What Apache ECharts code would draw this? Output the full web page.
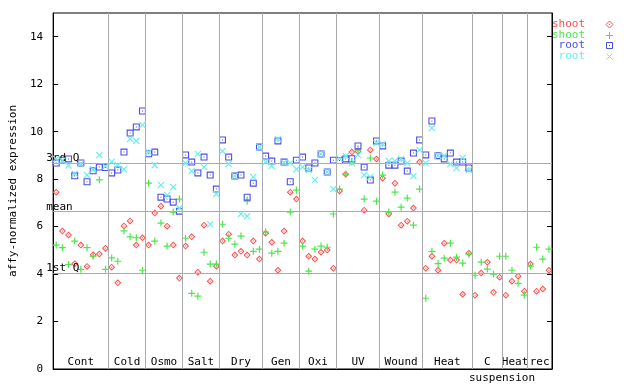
<!DOCTYPE html>
<html><head><meta charset="utf-8">
<script src="https://cdn.jsdelivr.net/npm/echarts@6/dist/echarts.min.js"></script>
<style>html,body{margin:0;padding:0;background:#fff}#c{width:640px;height:384px}</style>
</head><body><div id="c"></div>
<script>
// ---- data ----
const groupLabels = ['Cont','Cold','Osmo','Salt','Dry','Gen','Oxi','UV','Wound','Heat','C','Heat','rec'];
const groupSizes  = [9,6,6,6,7,6,6,7,7,8,5,4,4];
const subLabel = 'suspension';
const yTicks = [0,2,4,6,8,10,12,14];
const statNames = ['3rd Q','mean','1st Q'];
const statValues = [8.68, 6.63, 4.05];
const seriesNames = ['shoot','shoot','root','root'];

const shootRed = [
 7.45,5.81,5.65,4.43,5.22,4.32,4.81,4.85,5.09,
 4.29,3.63,6.03,6.24,5.22,5.53,
 5.22,6.57,6.86,6.02,5.22,3.83,
 5.18,5.57,4.08,6.06,3.70,4.33,
 5.39,5.68,4.80,4.96,4.80,5.39,4.63,
 5.72,5.34,4.16,5.81,7.45,7.16,
 5.39,4.75,4.63,4.92,5.01,4.25,
 7.50,8.21,9.14,9.18,6.69,9.23,8.85,
 8.04,6.53,7.83,6.06,6.23,6.78,8.72,
 4.25,4.75,4.16,5.30,4.59,4.59,3.15,4.88,
 3.11,4.04,4.50,3.23,3.87,
 3.11,3.70,3.91,3.28,
 4.42,3.28,3.37,4.16];
const shootGreen = [
 5.22,5.11,4.40,5.39,4.20,5.11,4.75,7.97,4.20,
 4.68,4.54,5.82,5.57,5.53,4.16,
 7.83,5.39,6.15,5.18,6.61,7.16,
 5.51,3.19,3.07,4.92,4.42,4.42,
 6.10,5.51,5.26,5.60,7.07,4.96,5.05,
 5.77,4.88,4.96,5.30,6.61,7.54,
 5.18,4.12,5.05,5.18,5.13,6.53,
 7.58,8.21,8.72,9.23,7.16,8.89,7.07,
 8.17,6.61,7.45,6.82,7.20,6.06,7.58,
 2.98,4.96,4.44,4.67,5.30,4.71,4.46,4.84,
 3.95,4.50,4.21,4.00,4.75,
 4.75,4.16,3.61,3.11,
 4.33,5.13,4.63,5.05];
const rootBlue = [
 8.68,8.80,8.85,8.14,8.68,7.89,8.35,8.51,8.49,
 8.26,8.38,9.14,9.94,10.20,10.87,
 9.07,9.14,7.24,7.16,7.03,6.65,
 9.02,8.72,8.26,8.93,8.17,7.58,
 9.65,8.93,8.13,8.17,7.24,7.83,9.35,
 8.97,8.76,9.61,8.72,7.89,8.80,
 8.93,8.47,8.68,9.06,8.30,8.80,
 8.78,8.85,8.86,9.40,8.51,7.96,9.61,
 9.40,8.59,8.59,8.76,8.34,9.10,9.65,
 9.02,10.45,8.99,8.85,9.10,8.72,8.72,8.47];
const rootCyan = [
 8.85,8.78,8.57,8.23,8.65,8.17,8.41,9.02,8.54,
 8.73,8.59,8.42,9.69,9.61,10.28,
 9.14,8.59,7.75,7.33,7.67,6.78,
 8.68,8.34,9.06,8.51,6.10,7.37,
 9.18,8.64,8.13,6.53,6.44,8.09,9.35,
 8.73,8.55,9.69,8.69,8.68,8.42,
 8.51,8.38,7.96,9.06,8.30,7.58,
 8.87,8.97,8.68,9.02,8.17,8.09,9.52,
 9.48,8.76,8.76,8.85,8.68,8.13,9.23,
 8.68,10.15,8.99,8.99,8.64,8.47,8.89,8.38];

// ---- styling ----
const FONT = 'DejaVu Sans Mono';
const colors = ['#ff4d4d','#4de64d','#4d4de6','#66eeee'];
const shapes = [
 'M3.5,0L7,3.5L3.5,7L0,3.5Z M3.5,1.4L1.4,3.5L3.5,5.6L5.6,3.5Z M3,3H4V4H3Z',
 'M2.9,0H4.1V2.9H7V4.1H4.1V7H2.9V4.1H0V2.9H2.9Z',
 'M0,0H7V7H0Z M1.1,1.1V5.9H5.9V1.1Z M3,3H4V4H3Z',
 'M0,0.8L0.8,0L3.5,2.7L6.2,0L7,0.8L4.3,3.5L7,6.2L6.2,7L3.5,4.3L0.8,7L0,6.2L2.7,3.5Z'
];
const total = groupSizes.reduce((a,b)=>a+b,0);
const bounds = []; const centers = [];
let acc = 0;
groupSizes.forEach((n,i)=>{ centers.push(acc + n/2); acc += n; if (i < groupSizes.length-1) bounds.push(acc); });

const toPts = arr => arr.map((v,i)=>[i+0.5, v]);
const allData = [shootRed, shootGreen, rootBlue, rootCyan];

const chart = echarts.init(document.getElementById('c'), null, {renderer:'canvas'});
const grid = {left:44, top:13, width:508, height:356, show:true, borderColor:'#000', borderWidth:1, backgroundColor:'transparent'};

const series = [{
  type:'scatter', data:[], z:1, silent:true,
  markLine:{
    silent:true, symbol:['none','none'], animation:false,
    lineStyle:{color:'#aaaaaa', width:1, type:'solid'},
    data: bounds.map(b=>({xAxis:b, label:{show:false}}))
      .concat(statValues.map((v,i)=>({yAxis:v, name:statNames[i],
        label:{show:true, formatter:statNames[i], position:'insideStartTop', color:'#000',
               fontFamily:FONT, fontSize:11, distance:[1,1], padding:0, offset:[-8,2]}})))
  }
}];
allData.forEach((arr,k)=>{
  series.push({type:'scatter', name:seriesNames[k], data:toPts(arr), z:2+k,
    symbol:'path://'+shapes[k], symbolSize:7, itemStyle:{color:colors[k], opacity:1}, animation:false});
});

// legend icons built from simple graphic primitives
function legendIcon(k, cx, cy){
  const c = colors[k], st = {stroke:c, lineWidth:1, fill:null};
  if (k===0) return [{type:'polygon', shape:{points:[[cx,cy-3.5],[cx+3.5,cy],[cx,cy+3.5],[cx-3.5,cy]]}, style:st},
                     {type:'rect', shape:{x:cx-0.5,y:cy-0.5,width:1,height:1}, style:{fill:c}}];
  if (k===1) return [{type:'line', shape:{x1:cx-3.5,y1:cy,x2:cx+3.5,y2:cy}, style:st},
                     {type:'line', shape:{x1:cx,y1:cy-3.5,x2:cx,y2:cy+3.5}, style:st}];
  if (k===2) return [{type:'rect', shape:{x:cx-3,y:cy-3,width:6,height:6}, style:st},
                     {type:'rect', shape:{x:cx-0.5,y:cy-0.5,width:1,height:1}, style:{fill:c}}];
  return [{type:'line', shape:{x1:cx-3,y1:cy-3,x2:cx+3,y2:cy+3}, style:st},
          {type:'line', shape:{x1:cx-3,y1:cy+3,x2:cx+3,y2:cy-3}, style:st}];
}
const legendGraphic = [];
seriesNames.forEach((nm,k)=>{
  const cy = 24 + k*10.7;
  legendGraphic.push({type:'text', x:585, y:cy, style:{text:nm, fill:colors[k], font:'11px '+FONT, align:'right', verticalAlign:'middle'}});
  legendIcon(k, 609.5, Math.round(cy)+0.5).forEach(g=>legendGraphic.push(g));
});
legendGraphic.push({type:'text', x:502, y:378, style:{text:subLabel, fill:'#000', font:'11px '+FONT, align:'center', verticalAlign:'middle'}});

chart.setOption({
  animation:false,
  grid: grid,
  xAxis:{type:'value', min:0, max:total,
    axisLine:{show:true, lineStyle:{color:'#000'}}, axisTick:{show:false}, splitLine:{show:false},
    axisLabel:{inside:true, margin:1, color:'#000', fontFamily:FONT, fontSize:11, customValues:centers,
      formatter:(v)=>{const i=centers.findIndex(c=>Math.abs(c-v)<1e-6); return i>=0?groupLabels[i]:'';}}},
  yAxis:[{type:'value', min:0, max:15, interval:2, position:'left',
    name:'affy-normalized expression', nameLocation:'middle', nameGap:29,
    nameTextStyle:{color:'#000', fontFamily:FONT, fontSize:11},
    axisLine:{show:true, lineStyle:{color:'#000'}},
    axisTick:{show:true, inside:true, length:5, lineStyle:{color:'#000'}, customValues:yTicks},
    axisLabel:{color:'#000', fontFamily:FONT, fontSize:11, margin:10, customValues:yTicks},
    splitLine:{show:false}},
   {type:'value', min:0, max:15, interval:2, position:'right',
    axisLine:{show:true, lineStyle:{color:'#000'}},
    axisTick:{show:true, inside:true, length:5, lineStyle:{color:'#000'}, customValues:yTicks},
    axisLabel:{show:false}, splitLine:{show:false}}],
  graphic: legendGraphic,
  series: series
});
</script></body></html>
